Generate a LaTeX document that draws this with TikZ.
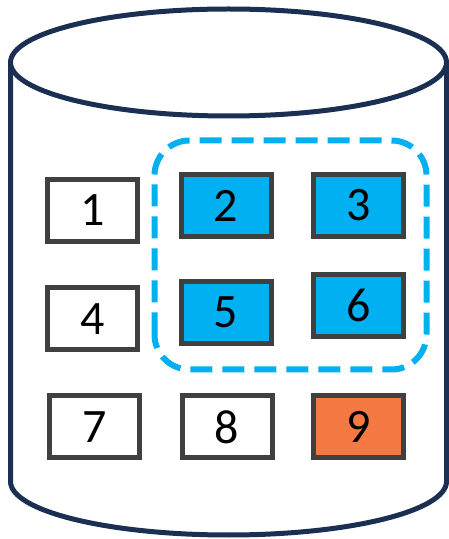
\documentclass[tikz,border=0pt]{standalone}
\usepackage{fontspec}
\setmainfont{Carlito}
\definecolor{navy}{HTML}{1B2F52}
\definecolor{boxgray}{HTML}{404040}
\definecolor{selblue}{HTML}{00B0F0}
\definecolor{hotorange}{HTML}{F47942}
\begin{document}
\begin{tikzpicture}[x=1pt,y=1pt,
  cell/.style={draw=boxgray,line width=5pt,minimum width=90pt,minimum height=62pt,
    inner sep=0pt,font=\fontsize{48}{52}\selectfont,text=black},
  plain/.style={cell,fill=white},
  sel/.style={cell,fill=selblue},
  hot/.style={cell,fill=hotorange},
  cyl/.style={draw=navy,line width=5pt}]
\useasboundingbox (0,0) rectangle (449,539);
% cylinder
\draw[cyl,fill=white] (10.5,476.5) -- (10.5,57.5)
  arc[start angle=180,end angle=360,x radius=218pt,y radius=53.5pt]
  -- (446.5,476.5);
\draw[cyl,fill=white] (228.5,476.5) ellipse [x radius=218pt,y radius=53.5pt];
% group outline
\draw[selblue,line width=6pt,dash pattern=on 22pt off 10pt,rounded corners=35pt]
  (154.5,169.5) rectangle (426.5,398.5);
% cells
\node[plain] (n1) at (92.5,328.5) {1};
\node[sel]   (n2) at (226,333.5) {2};
\node[sel]   (n3) at (358.5,333.5) {3};
\node[plain] (n4) at (92.5,220) {4};
\node[sel]   (n5) at (226,226.5) {5};
\node[sel]   (n6) at (358.5,233.5) {6};
\node[plain] (n7) at (94.5,112) {7};
\node[plain] (n8) at (227,112) {8};
\node[hot]   (n9) at (358.5,112) {9};
\end{tikzpicture}
\end{document}
